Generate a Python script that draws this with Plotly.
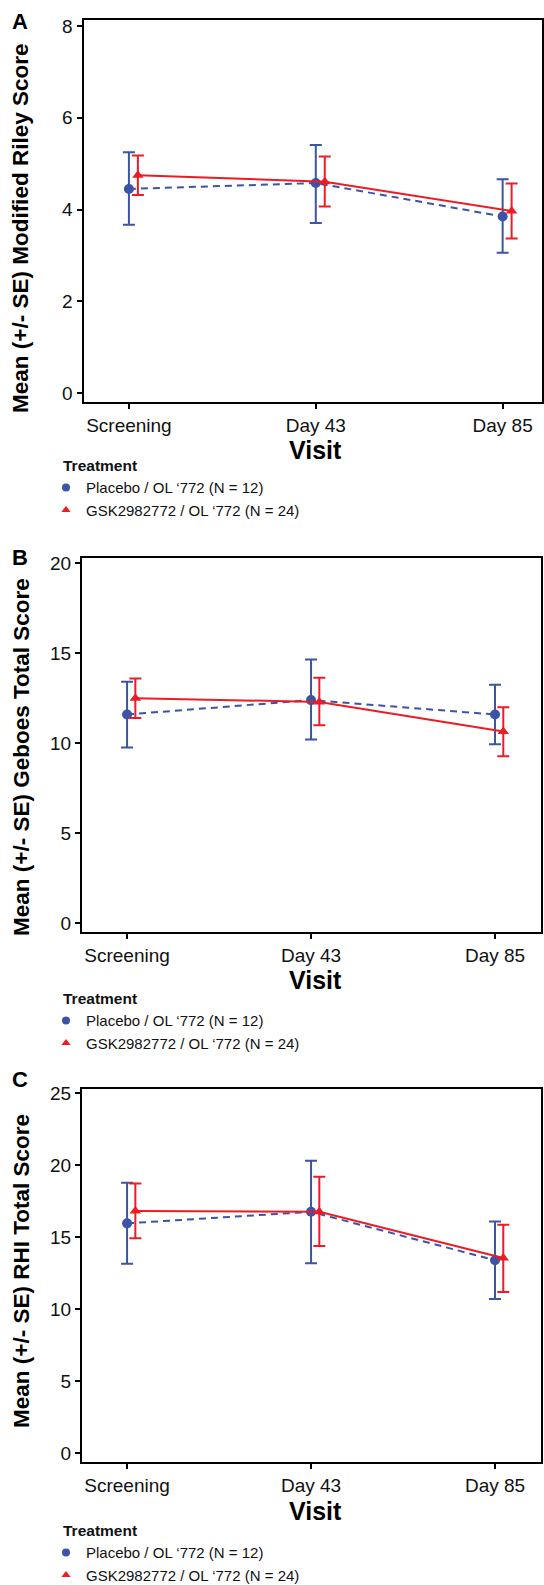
import plotly.graph_objects as go

W, H = 544, 1585

visits = ["Screening", "Day 43", "Day 85"]
treatments = ["Placebo / OL \u2018772 (N = 12)", "GSK2982772 / OL \u2018772 (N = 24)"]

# Panel A: Modified Riley Score
riley_placebo_mean = [4.45, 4.58, 3.85]
riley_placebo_upper = [5.25, 5.41, 4.66]
riley_placebo_lower = [3.67, 3.71, 3.06]
riley_gsk_mean = [4.75, 4.61, 3.97]
riley_gsk_upper = [5.18, 5.16, 4.57]
riley_gsk_lower = [4.32, 4.07, 3.37]

# Panel B: Geboes Total Score
geboes_placebo_mean = [11.6, 12.4, 11.6]
geboes_placebo_upper = [13.42, 14.65, 13.25]
geboes_placebo_lower = [9.77, 10.21, 9.95]
geboes_gsk_mean = [12.5, 12.3, 10.65]
geboes_gsk_upper = [13.6, 13.64, 12.0]
geboes_gsk_lower = [11.41, 11.0, 9.28]

# Panel C: RHI Total Score
rhi_placebo_mean = [15.97, 16.77, 13.41]
rhi_placebo_upper = [18.79, 20.31, 16.09]
rhi_placebo_lower = [13.16, 13.2, 10.72]
rhi_gsk_mean = [16.82, 16.77, 13.56]
rhi_gsk_upper = [18.74, 19.21, 15.88]
rhi_gsk_lower = [14.94, 14.4, 11.21]

BLUE = "#3B54A5"
RED = "#ED1C24"
SANS = "Liberation Sans, Arial, Helvetica, sans-serif"


def fy(p):
    return 1 - p / H


def fx(p):
    return p / W


panels = [
    dict(letter="A", ytitle="Mean (+/- SE) Modified Riley Score",
         series=[(riley_placebo_mean, riley_placebo_upper, riley_placebo_lower),
                 (riley_gsk_mean, riley_gsk_upper, riley_gsk_lower)],
         ytick=[0, 2, 4, 6, 8], yrange=[-0.183, 8.124], xrange=[-0.243, 2.209],
         ydom=(20.3, 401.7), xdom=(83.5, 541.7), offset=0.048,
         letter_y=21.5, ytitle_y=229, visit_y=450, legend_top=451),
    dict(letter="B", ytitle="Mean (+/- SE) Geboes Total Score",
         series=[(geboes_placebo_mean, geboes_placebo_upper, geboes_placebo_lower),
                 (geboes_gsk_mean, geboes_gsk_upper, geboes_gsk_lower)],
         ytick=[0, 5, 10, 15, 20], yrange=[-0.5, 20.31], xrange=[-0.245, 2.25],
         ydom=(557.7, 932.3), xdom=(82, 541), offset=0.045,
         letter_y=558, ytitle_y=757, visit_y=980, legend_top=984),
    dict(letter="C", ytitle="Mean (+/- SE) RHI Total Score",
         series=[(rhi_placebo_mean, rhi_placebo_upper, rhi_placebo_lower),
                 (rhi_gsk_mean, rhi_gsk_upper, rhi_gsk_lower)],
         ytick=[0, 5, 10, 15, 20, 25], yrange=[-0.625, 25.32], xrange=[-0.245, 2.25],
         ydom=(1088.7, 1462.3), xdom=(82, 541), offset=0.045,
         letter_y=1079, ytitle_y=1271, visit_y=1511, legend_top=1516),
]

styles = [
    dict(color=BLUE, symbol="circle", dash="7px,5px", size=10),
    dict(color=RED, symbol="triangle-up", dash="solid", size=10),
]

fig = go.Figure()
annotations = []
layout = {}

for k, p in enumerate(panels):
    sfx = "" if k == 0 else str(k + 1)
    xa, ya = "x" + sfx, "y" + sfx
    leg = "legend" + sfx
    for j, (mean, upper, lower) in enumerate(p["series"]):
        st = styles[j]
        xs = [i + j * p["offset"] for i in range(len(visits))]
        fig.add_trace(go.Scatter(
            x=xs, y=mean, mode="lines+markers", name=treatments[j],
            xaxis=xa, yaxis=ya, showlegend=False,
            line=dict(color=st["color"], width=2, dash=st["dash"]),
            marker=dict(color=st["color"], symbol=st["symbol"], size=st["size"]),
            error_y=dict(type="data", symmetric=False,
                         array=[u - m for u, m in zip(upper, mean)],
                         arrayminus=[m - l for m, l in zip(mean, lower)],
                         color=st["color"], thickness=2, width=6),
        ))
        # legend entry (marker only)
        fig.add_trace(go.Scatter(
            x=[None], y=[None], mode="markers", name=treatments[j],
            xaxis=xa, yaxis=ya, legend=leg, showlegend=True,
            marker=dict(color=st["color"], symbol=st["symbol"], size=8),
        ))

    layout["xaxis" + sfx] = dict(
        domain=[fx(p["xdom"][0]), fx(p["xdom"][1])], anchor=ya,
        range=p["xrange"], tickvals=list(range(len(visits))), ticktext=visits,
        showline=True, mirror=True, linecolor="black", linewidth=2,
        ticks="outside", ticklen=5, tickwidth=1.5, tickcolor="black",
        showgrid=False, zeroline=False, automargin=False,
        tickfont=dict(family=SANS, size=19, color="#111111"),
    )
    layout["yaxis" + sfx] = dict(
        domain=[fy(p["ydom"][1]), fy(p["ydom"][0])], anchor=xa,
        range=p["yrange"], tickvals=p["ytick"],
        showline=True, mirror=True, linecolor="black", linewidth=2,
        ticks="outside", ticklen=5, tickwidth=1.5, tickcolor="black",
        showgrid=False, zeroline=False, automargin=False,
        tickfont=dict(family=SANS, size=19, color="#111111"),
    )
    layout[leg] = dict(
        x=fx(61), y=fy(p["legend_top"]), xanchor="left", yanchor="top",
        bgcolor="rgba(0,0,0,0)", indentation=-15, tracegroupgap=0,
        font=dict(family=SANS, size=15, color="#111111"),
        title=dict(text="Treatment",
                   font=dict(family=SANS, size=15.5, color="#111111", weight="bold")),
    )
    annotations.append(dict(
        text=p["letter"], x=fx(20), y=fy(p["letter_y"]), xref="paper", yref="paper",
        xanchor="center", yanchor="middle", showarrow=False,
        font=dict(family=SANS, size=22, color="black", weight="bold")))
    annotations.append(dict(
        text=p["ytitle"], x=fx(21), y=fy(p["ytitle_y"]), xref="paper", yref="paper",
        xanchor="center", yanchor="middle", showarrow=False, textangle=-90,
        font=dict(family=SANS, size=22.5, color="black", weight="bold")))
    annotations.append(dict(
        text="Visit", x=fx(315), y=fy(p["visit_y"]), xref="paper", yref="paper",
        xanchor="center", yanchor="middle", showarrow=False,
        font=dict(family=SANS, size=25, color="black", weight="bold")))

fig.update_layout(
    width=W, height=H,
    margin=dict(l=0, r=0, t=0, b=0, autoexpand=False),
    paper_bgcolor="white", plot_bgcolor="white",
    annotations=annotations,
    **layout,
)

fig.write_html("out.html", config={"displayModeBar": False},
               post_script="document.body.style.margin='0';")
